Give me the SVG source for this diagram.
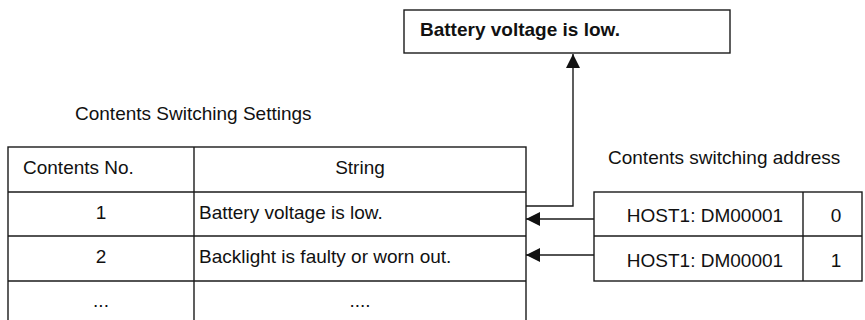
<svg xmlns="http://www.w3.org/2000/svg" width="865" height="320" viewBox="0 0 865 320">
<defs>
<style>
.ln{fill:none;stroke:#1a1a1a;stroke-width:1.4}
.fill{fill:#fff;stroke:#1a1a1a;stroke-width:1.4}
.t{font-family:"Liberation Sans",Arial,sans-serif;font-size:19px;fill:#111}
.c{text-anchor:middle}
.b{font-weight:bold}
</style>
<marker id="ah" viewBox="0 0 14 14" markerWidth="14" markerHeight="14" refX="14" refY="7" orient="auto" markerUnits="userSpaceOnUse">
<path d="M0,0 L14,7 L0,14 Z" fill="#111"/>
</marker>
</defs>
<rect width="865" height="320" fill="#fff"/>

<g id="display">
<rect class="fill" x="404" y="10" width="326" height="43"/>
<text class="t b" x="420" y="36">Battery voltage is low.</text>
</g>

<g id="settings-title">
<text class="t" x="75" y="120">Contents Switching Settings</text>
</g>

<g id="settings-table">
<rect class="fill" x="8" y="147" width="518" height="178"/>
<line class="ln" x1="8" y1="192" x2="526" y2="192"/>
<line class="ln" x1="8" y1="236" x2="526" y2="236"/>
<line class="ln" x1="8" y1="281" x2="526" y2="281"/>
<line class="ln" x1="194" y1="147" x2="194" y2="325"/>
<text class="t" x="23" y="174">Contents No.</text>
<text class="t c" x="360" y="174">String</text>
<text class="t c" x="101" y="219">1</text>
<text class="t" x="199" y="219">Battery voltage is low.</text>
<text class="t c" x="101" y="263">2</text>
<text class="t" x="199" y="263">Backlight is faulty or worn out.</text>
<text class="t c" x="101" y="307">...</text>
<text class="t c" x="360" y="307">....</text>
</g>

<g id="address-title">
<text class="t" x="608" y="164">Contents switching address</text>
</g>

<g id="address-table">
<rect class="fill" x="594" y="192" width="268" height="89"/>
<line class="ln" x1="594" y1="236" x2="862" y2="236"/>
<line class="ln" x1="803" y1="192" x2="803" y2="281"/>
<text class="t c" x="705" y="222">HOST1: DM00001</text>
<text class="t c" x="836" y="222">0</text>
<text class="t c" x="705" y="267">HOST1: DM00001</text>
<text class="t c" x="836" y="267">1</text>
</g>

<g id="connectors">
<polyline class="ln" points="526,206 573,206 573,54" marker-end="url(#ah)"/>
<line class="ln" x1="594" y1="219" x2="526" y2="219" marker-end="url(#ah)"/>
<line class="ln" x1="594" y1="255" x2="526" y2="255" marker-end="url(#ah)"/>
</g>
</svg>
